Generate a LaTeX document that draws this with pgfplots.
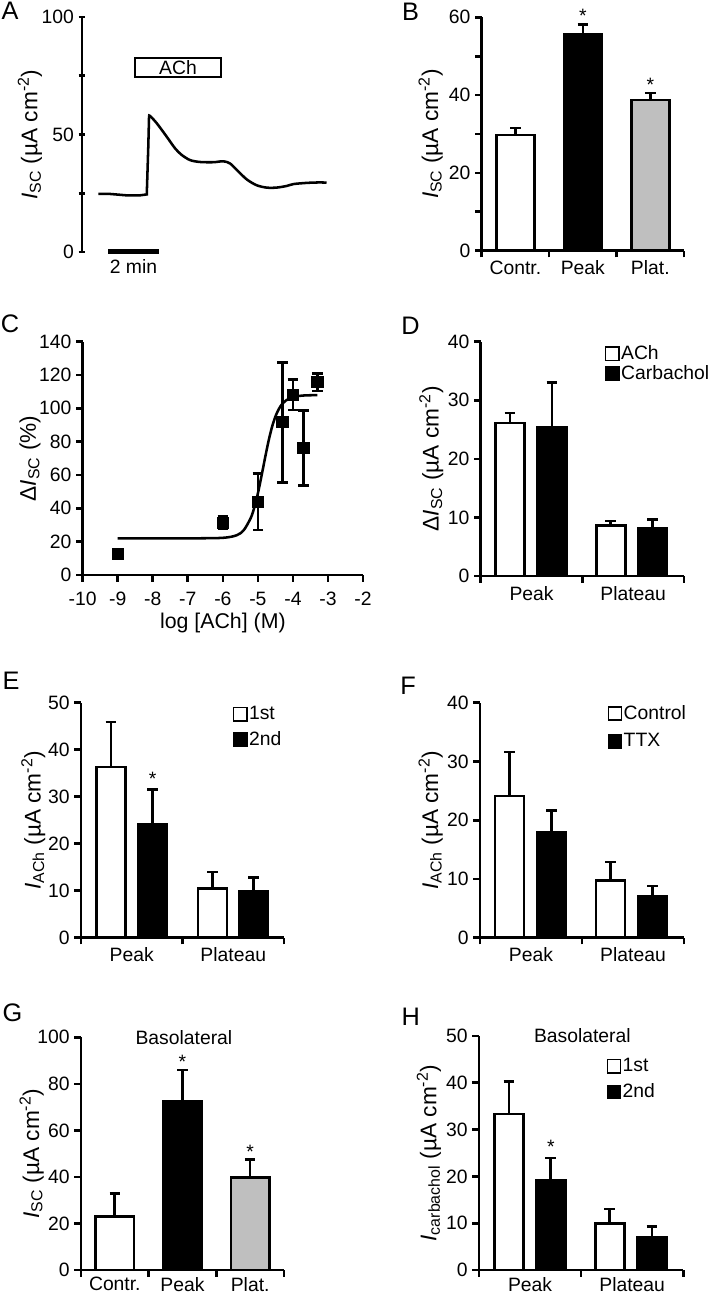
\documentclass[border=0pt]{standalone}
\usepackage{fontspec}
\setmainfont{Liberation Sans}
\usepackage{pgfplots}
\pgfplotsset{compat=1.18}
\newcommand{\tfont}{\fontsize{14.5}{17}\selectfont}
\newcommand{\lfont}{\fontsize{17}{20}\selectfont}
\newcommand{\pfont}{\fontsize{19}{22}\selectfont}
\pgfplotsset{
  base/.style={
    scale only axis, anchor=south west,
    axis lines=left, axis line style={-, line width=2pt},
    tick style={black, line width=2pt},
    tick align=outside, major tick length=5pt, minor tick length=5pt,
    every tick label/.append style={font=\tfont},
    xticklabel style={font=\tfont, yshift=-4pt},
    yticklabel style={font=\tfont},
    label style={font=\lfont},
    ylabel style={anchor=center},
    /pgf/number format/assume math mode=true,
    clip=false, enlargelimits=false,
  },
  bar2/.style={base, xmin=-0.5, xmax=1.5, xtick={-0.5,0.5,1.5}, xticklabels={,,},
    extra x ticks={0,1}, extra x tick labels={Peak,Plateau},
    extra x tick style={major tick length=0pt},
    legend style={draw=none, fill=none, font=\tfont, anchor=north west, inner sep=0pt, nodes={inner sep=1pt}},
    legend cell align=left},
  bar3/.style={base, xmin=-0.5, xmax=2.5, xtick={-0.5,0.5,1.5,2.5}, xticklabels={,,,},
    extra x ticks={0,1,2}, extra x tick labels={Contr.,Peak,Plat.},
    extra x tick style={major tick length=0pt}},
  bars/.style={ybar, bar shift=0pt, draw=black, line width=2pt,
    legend image code/.code={\draw[##1, line width=1.1pt] (0pt,-5pt) rectangle (10pt,5pt);},
    error bars/y dir=plus, error bars/y explicit,
    error bars/error bar style={line width=2pt, black},
    error bars/error mark options={rotate=90, mark size=4pt, line width=2pt, black}},
}
\begin{document}
\begin{tikzpicture}
\path[use as bounding box] (0pt,0pt) rectangle (531.75pt,969.75pt);

% ---------------- A ----------------
\begin{axis}[base, at={(61.5pt,780.75pt)}, width=191.25pt, height=176.25pt,
  axis x line=none, axis y line=left, axis line style={-, line width=2pt},
  xmin=0, xmax=10, ymin=0, ymax=100,
  ytick={0,50,100}, minor ytick={25,75},
  ylabel={\textit{I}\textsubscript{SC} (µA cm\textsuperscript{-2})},
  ylabel style={at={(axis description cs:-0.204,0.5)}}]
\addplot[black, line width=1.9pt, no marks] coordinates {
 (0.64,24.7) (1.10,24.7) (1.75,24.1) (2.27,24.1) (2.54,24.5) (2.60,45) (2.63,57.9)};
\addplot[black, line width=1.9pt, no marks, smooth, tension=0.5] coordinates {
 (2.63,57.9) (2.67,57.9) (2.93,54.8) (3.32,49.1) (3.65,44.1) (3.91,41.3) (4.24,39.1)
 (4.63,38.3) (5.15,38.2) (5.54,38.6) (5.80,37.7) (6.07,34.9) (6.46,30.9) (6.85,28.4)
 (7.24,27.4) (7.63,27.4) (8.03,28.1) (8.29,28.9) (8.81,29.4) (9.33,29.6) (9.59,29.5)};
\addplot[black, line width=3.5pt, no marks] coordinates {(1.02,0.1) (3.02,0.1)};
\draw[line width=1.3pt, fill=white] (axis cs:2.08,74.5) rectangle (axis cs:5.45,82.5);
\node[font=\tfont] at (axis cs:3.765,78.5) {ACh};
\node[font=\tfont] at (axis cs:2.02,-6.3) {2 min};
\end{axis}

% ---------------- B ----------------
\begin{axis}[bar3, at={(361.28pt,781.73pt)}, width=151.73pt, height=175.05pt,
  ymin=0, ymax=60, ytick={0,20,40,60}, minor ytick={10,30,50},
  ylabel={\textit{I}\textsubscript{SC} (µA cm\textsuperscript{-2})},
  ylabel style={at={(axis description cs:-0.252,0.5)}}]
\addplot[bars, bar width=0.564, fill=white] coordinates {(0,29.7) +- (0,1.8)};
\addplot[bars, bar width=0.564, fill=black] coordinates {(1,55.6) +- (0,2.6)};
\addplot[bars, bar width=0.564, fill=black!25] coordinates {(2,38.7) +- (0,1.8)};
\node[font=\tfont, yshift=-3pt] at (axis cs:1,61.4) {*};
\node[font=\tfont, yshift=-3pt] at (axis cs:2,43.6) {*};
\end{axis}

% ---------------- C ----------------
\begin{axis}[base, at={(62.03pt,538.5pt)}, width=210.23pt, height=175pt,
  xmin=-10, xmax=-2, ymin=0, ymax=140,
  xtick={-10,-9,-8,-7,-6,-5,-4,-3,-2}, ytick={0,20,40,60,80,100,120,140},
  xlabel={log [ACh] (M)},
  xlabel style={at={(axis description cs:0.5,-0.205)}, anchor=center, font=\fontsize{16}{19}\selectfont},
  ylabel={Δ\textit{I}\textsubscript{SC} (\%)},
  ylabel style={at={(axis description cs:-0.188,0.5)}}]
\addplot[black, line width=1.9pt, no marks, smooth] coordinates {
 (-9,22.0) (-7,22.0) (-6,22.3) (-5.6,23.9) (-5.4,27.0) (-5.2,34.4) (-5.1,40.7)
 (-5.0,49.0) (-4.9,59.1) (-4.8,69.8) (-4.7,80.0) (-4.6,88.6) (-4.5,95.1) (-4.4,99.7)
 (-4.3,102.8) (-4.2,104.7) (-4.0,106.8) (-3.8,107.5) (-3.6,107.8) (-3.3,107.9)};
\addplot[black, only marks, mark=square*, mark size=3.6pt, line width=2pt,
  error bars/y dir=both, error bars/y explicit,
  error bars/error bar style={line width=2pt, black},
  error bars/error mark options={rotate=90, mark size=4pt, line width=2pt, black}]
 coordinates {
 (-9,12.5) +- (0,3)
 (-6,31.4) +- (0,3.5)
 (-5,44) +- (0,17)
 (-4.3,91.6) +- (0,36)
 (-4,108.2) +- (0,9.2)
 (-3.7,76) +- (0,22.5)
 (-3.3,115.6) +- (0,5.3)};
\end{axis}

% ---------------- D ----------------
\begin{axis}[bar2, at={(360.53pt,537.75pt)}, width=152.48pt, height=175.73pt,
  ymin=0, ymax=40, ytick={0,10,20,30,40},
  ylabel={Δ\textit{I}\textsubscript{SC} (µA cm\textsuperscript{-2})},
  ylabel style={at={(axis description cs:-0.243,0.5)}},
  legend style={at={(0.61,0.99)}, row sep=1pt}]
\addplot[bars, bar width=0.285, fill=white] coordinates {(-0.213,26.1) +- (0,1.7) (0.78,8.65) +- (0,0.75)};
\addlegendentry{ACh}
\addplot[bars, bar width=0.285, fill=black] coordinates {(0.2,25.3) +- (0,7.7) (1.19,8.1) +- (0,1.6)};
\addlegendentry{Carbachol}
\end{axis}

% ---------------- E ----------------
\begin{axis}[bar2, at={(60.75pt,266.48pt)}, width=152.25pt, height=176.25pt,
  ymin=0, ymax=50, ytick={0,10,20,30,40,50},
  ylabel={\textit{I}\textsubscript{ACh} (µA cm\textsuperscript{-2})},
  ylabel style={at={(axis description cs:-0.235,0.5)}},
  legend style={at={(0.747,0.99)}, row sep=5pt}]
\addplot[bars, bar width=0.285, fill=white] coordinates {(-0.205,36.3) +- (0,9.6) (0.795,10.4) +- (0,3.6)};
\addlegendentry{1st}
\addplot[bars, bar width=0.285, fill=black] coordinates {(0.205,24.1) +- (0,7.5) (1.2,9.8) +- (0,3.05)};
\addlegendentry{2nd}
\node[font=\tfont, yshift=-3pt] at (axis cs:0.205,34.6) {*};
\end{axis}

% ---------------- F ----------------
\begin{axis}[bar2, at={(360pt,266.48pt)}, width=153pt, height=176.25pt,
  ymin=0, ymax=40, ytick={0,10,20,30,40},
  ylabel={\textit{I}\textsubscript{ACh} (µA cm\textsuperscript{-2})},
  ylabel style={at={(axis description cs:-0.242,0.5)}},
  legend style={at={(0.624,0.995)}, row sep=7pt}]
\addplot[bars, bar width=0.285, fill=white] coordinates {(-0.21,24.1) +- (0,7.5) (0.78,9.7) +- (0,3.2)};
\addlegendentry{Control}
\addplot[bars, bar width=0.285, fill=black] coordinates {(0.2,17.9) +- (0,3.8) (1.19,7.0) +- (0,1.8)};
\addlegendentry{TTX}
\end{axis}

% ---------------- G ----------------
\begin{axis}[bar3, at={(60.75pt,17.25pt)}, width=152.25pt, height=174.5pt,
  ymin=0, ymax=100, ytick={0,20,40,60,80,100},
  xticklabel style={yshift=2pt},
  ylabel={\textit{I}\textsubscript{SC} (µA cm\textsuperscript{-2})},
  ylabel style={at={(axis description cs:-0.243,0.5)}}]
\addplot[bars, bar width=0.566, fill=white] coordinates {(0,22.9) +- (0,10.1)};
\addplot[bars, bar width=0.566, fill=black] coordinates {(1,72.3) +- (0,13.7)};
\addplot[bars, bar width=0.566, fill=black!25] coordinates {(2,39.8) +- (0,7.8)};
\node[font=\tfont, yshift=-3pt] at (axis cs:1,91.2) {*};
\node[font=\tfont, yshift=-3pt] at (axis cs:2,52.7) {*};
\node[font=\tfont] at (axis description cs:0.507,1.0) {Basolateral};
\end{axis}

% ---------------- H ----------------
\begin{axis}[bar2, at={(359.25pt,17.25pt)}, width=153.2pt, height=175.5pt,
  ymin=0, ymax=50, ytick={0,10,20,30,40,50},
  xticklabel style={yshift=2pt},
  ylabel={\textit{I}\textsubscript{carbachol} (µA cm\textsuperscript{-2})},
  ylabel style={at={(axis description cs:-0.245,0.5)}},
  legend style={at={(0.623,0.91)}, row sep=5.5pt}]
\addplot[bars, bar width=0.285, fill=white] coordinates {(-0.207,33.3) +- (0,7.0) (0.78,10.0) +- (0,3.0)};
\addlegendentry{1st}
\addplot[bars, bar width=0.285, fill=black] coordinates {(0.203,19.1) +- (0,4.8) (1.194,7.0) +- (0,2.25)};
\addlegendentry{2nd}
\node[font=\tfont, yshift=-3pt] at (axis cs:0.203,27.1) {*};
\node[font=\tfont] at (axis description cs:0.506,1.0) {Basolateral};
\end{axis}

% panel letters
\node[font=\pfont] at (7.5pt,961.5pt) {A};
\node[font=\pfont] at (308pt,960.75pt) {B};
\node[font=\pfont] at (7.5pt,726.75pt) {C};
\node[font=\pfont] at (307.9pt,725.25pt) {D};
\node[font=\pfont] at (8.25pt,459pt) {E};
\node[font=\pfont] at (306pt,455.6pt) {F};
\node[font=\pfont] at (9.4pt,210pt) {G};
\node[font=\pfont] at (308pt,207.2pt) {H};
\end{tikzpicture}
\end{document}
